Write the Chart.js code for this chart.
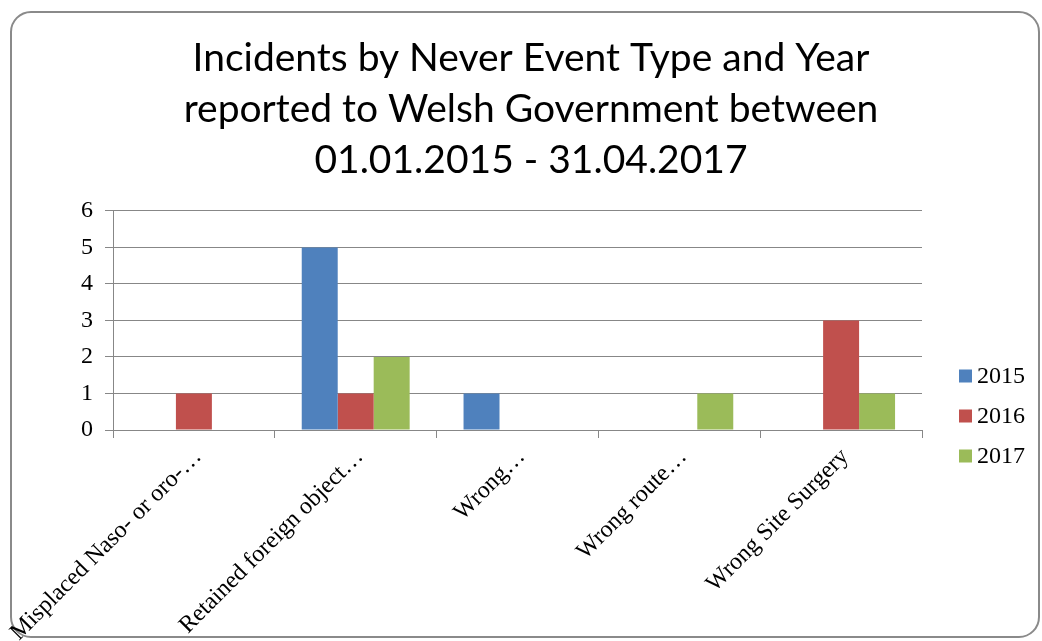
<!DOCTYPE html>
<html><head><meta charset="utf-8">
<script src="https://cdn.jsdelivr.net/npm/chart.js@4"></script>
<style>html,body{margin:0;padding:0;background:#fff;}</style>
</head><body>
<canvas id="c" width="1042" height="641"></canvas>
<script>
const categories = ["Misplaced Naso- or oro-…", "Retained foreign object…", "Wrong…", "Wrong route…", "Wrong Site Surgery"];
const seriesNames = ["2015", "2016", "2017"];
const values2015 = [0, 5, 1, 0, 0];
const values2016 = [1, 1, 0, 0, 3];
const values2017 = [0, 2, 0, 1, 1];
const yMin = 0, yMax = 6, yStep = 1;
const titleLines = ["Incidents by Never Event Type and Year", "reported to Welsh Government between", "01.01.2015 - 31.04.2017"];
const colors = ["#4F81BD", "#C0504D", "#9BBB59"];

const serif = '"Liberation Serif", "DejaVu Serif", serif';
const gridColor = '#878787';

const framePlugin = {
  id: 'frame',
  beforeDraw(chart) {
    const ctx = chart.ctx;
    ctx.save();
    ctx.fillStyle = '#fff';
    ctx.fillRect(0, 0, chart.width, chart.height);
    ctx.strokeStyle = '#8a8a8a';
    ctx.lineWidth = 2;
    ctx.beginPath();
    ctx.roundRect(11, 12, 1028, 625, 20);
    ctx.stroke();
    ctx.restore();
  }
};

const sideLegend = {
  id: 'sideLegend',
  afterDraw(chart) {
    const ctx = chart.ctx;
    const x0 = chart.chartArea.right + 37;
    ctx.save();
    ctx.font = '24px ' + serif;
    ctx.textBaseline = 'middle';
    chart.data.datasets.forEach((ds, i) => {
      const cy = 376 + i * 40;
      ctx.fillStyle = ds.backgroundColor;
      ctx.fillRect(x0, cy - 6.5, 13, 13);
      ctx.fillStyle = '#000';
      ctx.fillText(ds.label, x0 + 18, cy + 1);
    });
    ctx.restore();
  }
};

const datasets = [values2015, values2016, values2017].map((vals, i) => ({
  label: seriesNames[i],
  data: vals,
  backgroundColor: colors[i],
  borderWidth: 0,
  categoryPercentage: 0.667,
  barPercentage: 1.0
}));

new Chart(document.getElementById('c'), {
  type: 'bar',
  data: { labels: categories, datasets },
  plugins: [framePlugin, sideLegend],
  options: {
    responsive: false,
    animation: false,
    devicePixelRatio: 1,
    layout: { padding: { left: 20, right: 0, top: 0, bottom: 0 } },
    plugins: {
      legend: { display: false },
      tooltip: { enabled: false },
      title: {
        display: true,
        text: titleLines,
        color: '#000',
        font: { family: 'Lato, "Open Sans", sans-serif', size: 39, weight: 'normal', lineHeight: 1.31 },
        padding: { top: 33, bottom: 24.7 }
      }
    },
    scales: {
      x: {
        grid: { display: true, drawOnChartArea: false, drawTicks: true, tickLength: 8, color: gridColor, offset: true },
        border: { display: true, color: gridColor },
        ticks: { color: '#000', font: { family: serif, size: 24 }, minRotation: 45, maxRotation: 45, autoSkip: false, padding: 5, labelOffset: 4 },
        afterFit(s) { s.height = 211; s.paddingLeft = 0; s.paddingRight = 0; }
      },
      y: {
        min: yMin, max: yMax,
        grid: { color: gridColor, drawTicks: true, tickLength: 8 },
        border: { display: true, color: gridColor },
        ticks: { stepSize: yStep, color: '#000', font: { family: serif, size: 24 }, padding: 12 },
        afterFit(s) { s.width = 93; }
      },
      yR: {
        position: 'right',
        display: true,
        grid: { display: false, drawTicks: false },
        border: { display: false },
        ticks: { display: false },
        afterFit(s) { s.width = 120; }
      }
    }
  }
});
</script>
</body></html>
